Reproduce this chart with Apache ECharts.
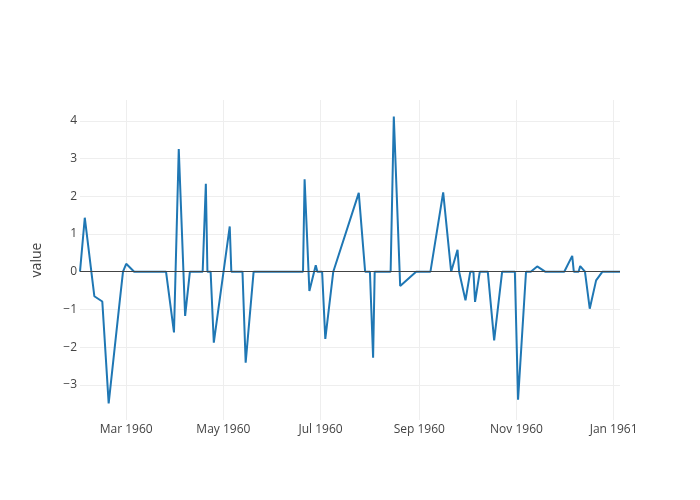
<!DOCTYPE html>
<html>
<head>
<meta charset="utf-8">
<script src="https://cdn.jsdelivr.net/npm/echarts@6/dist/echarts.min.js"></script>
<style>
  html, body { margin: 0; padding: 0; background: #fff; }
  #chart { width: 700px; height: 500px; }
</style>
</head>
<body>
<div id="chart"></div>
<script>
var dates = [
    '1960-02-01', '1960-02-04', '1960-02-10', '1960-02-15', '1960-02-19', '1960-02-26', '1960-02-28',
    '1960-03-01', '1960-03-06', '1960-03-26', '1960-03-31', '1960-04-03', '1960-04-07', '1960-04-10',
    '1960-04-18', '1960-04-20', '1960-04-21', '1960-04-23', '1960-04-25', '1960-05-05', '1960-05-06',
    '1960-05-13', '1960-05-15', '1960-05-20', '1960-06-20', '1960-06-21', '1960-06-24', '1960-06-28',
    '1960-06-29', '1960-07-02', '1960-07-04', '1960-07-09', '1960-07-25', '1960-07-29', '1960-08-01',
    '1960-08-03', '1960-08-04', '1960-08-14', '1960-08-16', '1960-08-20', '1960-08-30', '1960-09-08',
    '1960-09-16', '1960-09-21', '1960-09-25', '1960-09-26', '1960-09-30', '1960-10-03', '1960-10-05',
    '1960-10-06', '1960-10-09', '1960-10-14', '1960-10-18', '1960-10-23', '1960-10-31', '1960-11-02',
    '1960-11-07', '1960-11-10', '1960-11-14', '1960-11-19', '1960-12-01', '1960-12-06', '1960-12-07',
    '1960-12-10', '1960-12-11', '1960-12-14', '1960-12-17', '1960-12-21', '1960-12-25', '1961-01-05'
];
var values = [
    0, 1.43, -0.65, -0.79, -3.49, -0.76, 0,
    0.21, 0, 0, -1.61, 3.25, -1.17, 0,
    0, 2.33, 0, 0, -1.88, 1.20, 0,
    0, -2.41, 0, 0, 2.45, -0.51, 0.17,
    0, 0, -1.78, 0, 2.09, 0, 0,
    -2.28, 0, 0, 4.11, -0.38, 0, 0,
    2.10, 0, 0.58, 0, -0.76, 0, 0,
    -0.80, 0, 0, -1.82, 0, 0, -3.39,
    0, 0, 0.14, 0, 0, 0.42, 0,
    0, 0.15, 0, -0.98, -0.23, 0, 0
];
var monthNames = ['Jan', 'Feb', 'Mar', 'Apr', 'May', 'Jun', 'Jul', 'Aug', 'Sep', 'Oct', 'Nov', 'Dec'];
var yTitle = 'value';

var chart = echarts.init(document.getElementById('chart'));

var points = [];
for (var i = 0; i < dates.length; i++) {
    points.push([dates[i], values[i]]);
}

var option = {
    useUTC: true,
    animation: false,
    textStyle: { fontFamily: '"Open Sans", sans-serif' },
    grid: { left: 80, right: 80, top: 100, bottom: 80 },
    xAxis: {
        type: 'time',
        min: dates[0],
        max: dates[dates.length - 1],
        splitNumber: 5,
        axisLine: { show: false },
        axisTick: { show: false },
        splitLine: { show: true, showMinLine: false, showMaxLine: false, lineStyle: { color: '#eee', width: 1 } },
        axisLabel: {
            color: '#444',
            fontSize: 12,
            margin: 4,
            hideOverlap: false,
            formatter: function (v) {
                var d = new Date(v);
                return monthNames[d.getUTCMonth()] + ' ' + d.getUTCFullYear();
            }
        }
    },
    yAxis: {
        type: 'value',
        min: -3.93,
        max: 4.55,
        splitNumber: 8,
        name: yTitle,
        nameLocation: 'middle',
        nameGap: 36,
        nameTextStyle: { color: '#444', fontSize: 14 },
        axisLine: { show: false },
        axisTick: { show: false },
        splitLine: { showMinLine: false, showMaxLine: false, lineStyle: { color: '#eee', width: 1 } },
        axisLabel: {
            color: '#444',
            fontSize: 12,
            margin: 3,
            showMinLabel: false,
            showMaxLabel: false,
            formatter: function (v) {
                return String(v).replace('-', '\u2212');
            }
        }
    },
    series: [
        {
            type: 'line',
            data: points,
            showSymbol: false,
            lineStyle: { color: '#1f77b4', width: 2 },
            itemStyle: { color: '#1f77b4' },
            markLine: {
                silent: true,
                symbol: 'none',
                label: { show: false },
                lineStyle: { color: '#444', width: 1, type: 'solid' },
                data: [{ yAxis: 0 }]
            },
            z: 3
        }
    ]
};
chart.setOption(option);
</script>
</body>
</html>
